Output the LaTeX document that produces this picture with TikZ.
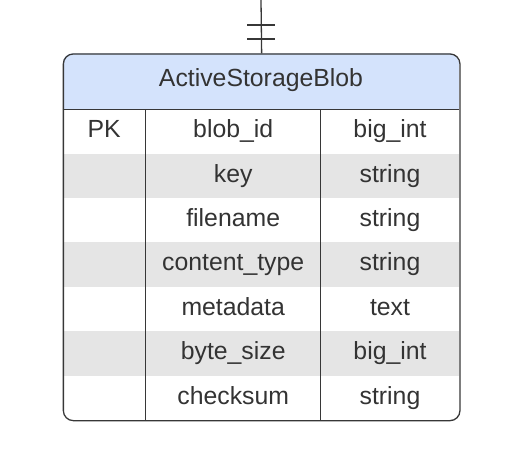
\documentclass[tikz,border=0pt]{standalone}
\usepackage{fontspec}
\setmainfont{Liberation Sans}
\definecolor{hdrblue}{RGB}{212,227,252}
\definecolor{rowgray}{RGB}{229,229,229}
\definecolor{ink}{RGB}{51,51,51}
\definecolor{linegray}{RGB}{55,55,55}
\tikzset{
  celltext/.style={anchor=base, inner sep=0pt, text=ink, font=\fontsize{24.8}{28}\selectfont},
  gridline/.style={draw=linegray, line width=1.3pt},
}
\begin{document}
\begin{tikzpicture}[x=1pt,y=1pt]
\useasboundingbox (0,0) rectangle (508,-452);
\def\L{62.7}\def\R{459.3}\def\T{53.3}\def\H{109.3}\def\B{420}
\def\CA{145.7}\def\CB{320.7}
\def\rh{44.39}
% fills
\begin{scope}
  \clip[rounded corners=10pt] (\L,-\T) rectangle (\R,-\B);
  \fill[hdrblue] (\L,-\T) rectangle (\R,-\H);
  \foreach \i in {1,3,5}{
    \fill[rowgray] (\L,{-(\H+\rh*\i)}) rectangle (\R,{-(\H+\rh*(\i+1))});
  }
\end{scope}
% outer box
\node[gridline, rounded corners=10pt, minimum width=396.6pt, minimum height=366.7pt,
      anchor=north west, inner sep=0pt] (tbl) at (\L,-\T) {};
% inner lines
\draw[gridline] (\L,-\H) -- (\R,-\H);
\draw[gridline] (\CA,-\H) -- (\CA,-\B);
\draw[gridline] (\CB,-\H) -- (\CB,-\B);
% header
\node[celltext] (title) at (261,-86.7) {ActiveStorageBlob};
% rows
\foreach \i/\a/\b/\c in {0/PK/blob\_id/big\_int,1//key/string,2//filename/string,3//content\_type/string,4//metadata/text,5//byte\_size/big\_int,6//checksum/string}{
  \node[celltext] (pk\i) at (104.2,{-(\H+\rh*\i+28.4)}) {\a};
  \node[celltext] (name\i) at (233.2,{-(\H+\rh*\i+28.4)}) {\b};
  \node[celltext] (type\i) at (390,{-(\H+\rh*\i+28.4)}) {\c};
}
% connector with one-and-only-one marker
\coordinate (ctop) at (261,0);
\draw[gridline] (ctop) -- (tbl.north);
\coordinate (bar1) at (261,-25);
\coordinate (bar2) at (261,-39);
\draw[gridline] ([xshift=-14pt]bar1) -- ([xshift=14pt]bar1);
\draw[gridline] ([xshift=-14pt]bar2) -- ([xshift=14pt]bar2);
\end{tikzpicture}
\end{document}
